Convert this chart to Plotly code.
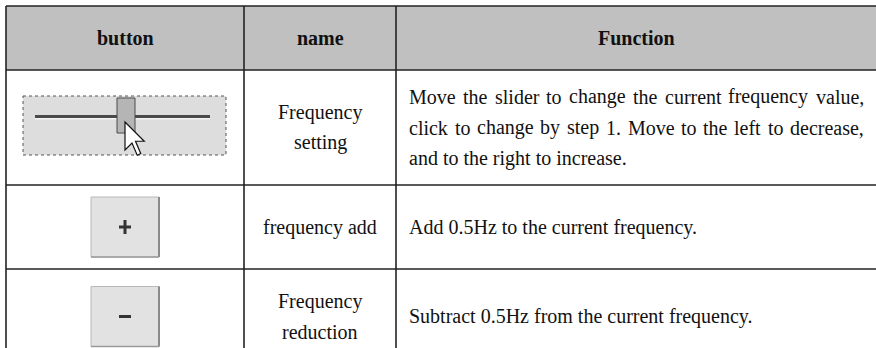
import plotly.graph_objects as go

# ---------------- table content ----------------
HEADERS = ["button", "name", "Function"]
NAMES = [["Frequency", "setting"], ["frequency add"], ["Frequency", "reduction"]]
FUNCTIONS = [
    ["Move the slider to change the current frequency value,",
     "click to change by step 1. Move to the left to decrease,",
     "and to the right to increase."],
    ["Add 0.5Hz to the current frequency."],
    ["Subtract 0.5Hz from the current frequency."],
]
JUSTIFY = [[True, True, False], [False], [False]]
BUTTON_KINDS = ["slider", "plus", "minus"]

# ---------------- layout geometry (pixels) ----------------
W, H = 876, 348
COL_X = [6, 244, 396, 876]
ROW_Y = [6, 70, 185, 269, 364]
FS = 20
LINE_H = 30.75
FONT = "Liberation Serif, Times New Roman, serif"
INK = "#111111"
RULE = "#222222"

# Times / Liberation Serif advance widths (1/1000 em)
WID = {' ': 250, ',': 250, '.': 250, '0': 500, '1': 500, '5': 500,
       'A': 722, 'H': 722, 'M': 889, 'S': 556, 'F': 556,
       'a': 444, 'b': 500, 'c': 444, 'd': 500, 'e': 444, 'f': 333, 'g': 500,
       'h': 500, 'i': 278, 'k': 500, 'l': 278, 'm': 778, 'n': 500, 'o': 500,
       'p': 500, 'q': 500, 'r': 333, 's': 389, 't': 278, 'u': 500, 'v': 500,
       'y': 500, 'z': 444}


def text_w(s):
    return sum(WID.get(c, 500) for c in s) * FS / 1000.0


fig = go.Figure()
shapes = []
annotations = []


def ann(x, y, text, anchor="center", bold=False):
    t = f"<b>{text}</b>" if bold else text
    annotations.append(dict(x=x, y=y, xref="x", yref="y", text=t, showarrow=False,
                            xanchor=anchor, yanchor="middle", borderpad=0, borderwidth=0,
                            font=dict(family=FONT, size=FS, color=INK)))


def line(x0, y0, x1, y1, color=RULE, width=1.6, dash=None):
    d = dict(type="line", x0=x0, y0=y0, x1=x1, y1=y1, xref="x", yref="y",
             line=dict(color=color, width=width))
    if dash:
        d["line"]["dash"] = dash
    shapes.append(d)


def rect(x0, y0, x1, y1, fill, color=None, width=0, dash=None):
    d = dict(type="rect", x0=x0, y0=y0, x1=x1, y1=y1, xref="x", yref="y",
             fillcolor=fill, line=dict(color=color or fill, width=width))
    if dash:
        d["line"]["dash"] = dash
    shapes.append(d)


# header background
rect(COL_X[0], ROW_Y[0], COL_X[-1], ROW_Y[1], "#c0c0c0")

# rules
for y in ROW_Y[:-1]:
    line(COL_X[0], y, COL_X[-1], y)
for x in COL_X[:-1]:
    line(x, ROW_Y[0], x, H)

# header text
for i, h in enumerate(HEADERS):
    ann((COL_X[i] + COL_X[i + 1]) / 2, (ROW_Y[0] + ROW_Y[1]) / 2, h, bold=True)

# body rows
for r in range(3):
    yc = (ROW_Y[r + 1] + ROW_Y[r + 2]) / 2
    # name column
    n = len(NAMES[r])
    for k, t in enumerate(NAMES[r]):
        ann((COL_X[1] + COL_X[2]) / 2, yc + (k - (n - 1) / 2) * LINE_H, t)
    # function column
    n = len(FUNCTIONS[r])
    left, right = COL_X[2] + 13, COL_X[3] - 12
    for k, t in enumerate(FUNCTIONS[r]):
        y = yc + (k - (n - 1) / 2) * LINE_H
        if JUSTIFY[r][k]:
            words = t.split(" ")
            ws = [text_w(w) for w in words]
            gap = (right - left - sum(ws)) / (len(words) - 1)
            x = left
            for w, ww in zip(words, ws):
                ann(x, y, w, anchor="left")
                x += ww + gap
        else:
            ann(left, y, t, anchor="left")

# ---------------- button pictures ----------------
for r, kind in enumerate(BUTTON_KINDS):
    cx = (COL_X[0] + COL_X[1]) / 2
    yc = (ROW_Y[r + 1] + ROW_Y[r + 2]) / 2
    if kind == "slider":
        rect(23, 96, 226, 155, "#dddddd", "#555555", 1, "dot")
        line(35, 118.5, 210, 118.5, "#f4f4f4", 2)
        line(35, 116.5, 210, 116.5, "#4a4a4a", 3)
        rect(117, 98, 135, 133, "#b5b5b5", "#4a4a4a", 1)
        s = 1.75
        px, py = 125, 122
        pts = [(0, 0), (0, 16), (4, 12), (7, 19), (9, 18), (6, 11), (11, 11)]
        path = "M " + " L ".join(f"{px + a * s},{py + b * s}" for a, b in pts) + " Z"
        shapes.append(dict(type="path", path=path, xref="x", yref="y",
                           fillcolor="white", line=dict(color="#111111", width=1.2)))
    else:
        bx0, bx1 = cx - 34, cx + 34
        by0, by1 = yc - 30, yc + 30
        rect(bx0, by0, bx1, by1, "#e2e2e2", "#b8b8b8", 1)
        line(bx1, by0, bx1, by1, "#8a8a8a", 2)
        line(bx0, by1, bx1, by1, "#9a9a9a", 1.5)
        line(cx - 6, yc, cx + 6, yc, "#333333", 3)
        if kind == "plus":
            line(cx, yc - 7, cx, yc + 7, "#333333", 3)

fig.update_layout(
    width=W, height=H, margin=dict(l=0, r=0, t=0, b=0),
    paper_bgcolor="white", plot_bgcolor="white",
    xaxis=dict(range=[0, W], visible=False, fixedrange=True),
    yaxis=dict(range=[H, 0], visible=False, fixedrange=True),
    shapes=shapes, annotations=annotations, showlegend=False,
)
fig.write_html("out.html", config={"displayModeBar": False, "staticPlot": True},
               post_script="document.body.style.margin='0';document.body.style.overflow='hidden';")
